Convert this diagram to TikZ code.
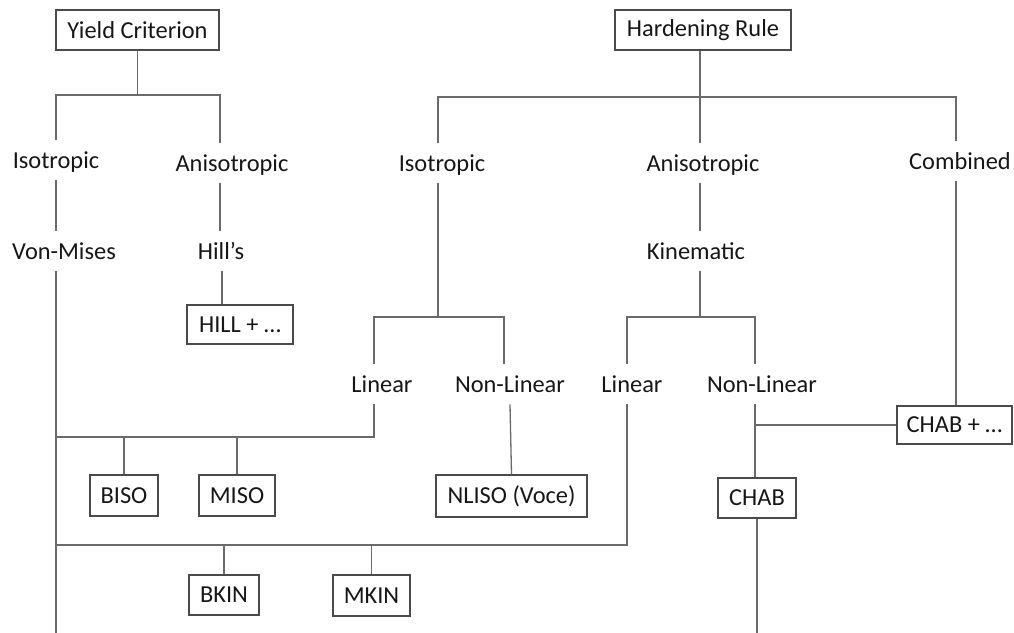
\documentclass[tikz,border=0pt]{standalone}
\usepackage{fontspec}
\setmainfont{Carlito}
\definecolor{linec}{HTML}{6A6A6A}
\definecolor{boxc}{HTML}{4A4A4A}
\definecolor{txtc}{HTML}{161616}
\begin{document}
\begin{tikzpicture}[x=0.5pt,y=-0.5pt,
  every node/.style={font=\fontsize{12.2pt}{14pt}\selectfont, text=txtc},
  lbl/.style={inner sep=0pt, anchor=base, text height=14pt, text depth=6pt},
  lblb/.style={inner sep=0pt, anchor=base, text height=14pt, text depth=6pt},
  boxn/.style={draw=boxc, line width=0.65pt, inner sep=0pt, align=center},
  conn/.style={draw=linec, line width=0.65pt}]
\useasboundingbox (0,0) rectangle (1014,633);

% boxes
\node[boxn, minimum width=81.5pt, minimum height=20pt] (yc) at (137.5,30) {Yield Criterion};
\node[boxn, minimum width=88pt, minimum height=20pt] (hr) at (703,30) {Hardening Rule};
\node[boxn, minimum width=53pt, minimum height=19.5pt] (hill) at (240,324.5) {HILL + …};
\node[boxn, minimum width=34pt, minimum height=20.5pt] (biso) at (124,495.5) {BISO};
\node[boxn, minimum width=38pt, minimum height=20.5pt] (miso) at (237,495.5) {MISO};
\node[boxn, minimum width=75.5pt, minimum height=21pt] (nliso) at (511.5,496) {NLISO (Voce)};
\node[boxn, minimum width=57.5pt, minimum height=19pt] (chabp) at (954.5,425) {CHAB + …};
\node[boxn, minimum width=39pt, minimum height=20pt] (chab) at (757,498) {CHAB};
\node[boxn, minimum width=35pt, minimum height=20pt] (bkin) at (224,595) {BKIN};
\node[boxn, minimum width=38.5pt, minimum height=20.5pt] (mkin) at (371.5,595.5) {MKIN};

% labels
\node[lbl] (yiso) at (56,168) {Isotropic};
\node[lbl] (yani) at (232,171) {Anisotropic};
\node[lbl] (vm) at (64,259) {Von-Mises};
\node[lbl] (hills) at (221,259) {Hill’s};
\node[lbl] (hiso) at (442,171) {Isotropic};
\node[lbl] (hani) at (703,171) {Anisotropic};
\node[lbl] (comb) at (960,169) {Combined};
\node[lbl] (kin) at (696,259) {Kinematic};
\node[lblb] (lin1) at (382,392) {Linear};
\node[lblb] (nlin1) at (510,392) {Non-Linear};
\node[lblb] (lin2) at (632,392) {Linear};
\node[lblb] (nlin2) at (762,392) {Non-Linear};

% junction coordinates
\coordinate (yj) at (137.5,95);
\coordinate (yl) at (56,95);
\coordinate (yr) at (220,95);
\coordinate (vmEnd) at (56,633);
\coordinate (hj) at (700,97);
\coordinate (hl) at (438,97);
\coordinate (hrr) at (956,97);
\coordinate (ij) at (438,317);
\coordinate (il) at (374,317);
\coordinate (ir) at (504,317);
\coordinate (kj) at (700,317);
\coordinate (kl) at (627,317);
\coordinate (kr) at (755,317);
\coordinate (b1) at (374,437);
\coordinate (b2) at (627,545);
\coordinate (hl1) at (222,259);

% yield criterion tree
\draw[conn] (yc.south) -- (yj);
\draw[conn] (yl |- yiso.north) -- (yl) -- (yr) -- (yr |- yani.north);
\draw[conn] (yl |- yiso.south) -- (yl |- vm.north);
\draw[conn] (yl |- vm.south) -- (vmEnd);
\draw[conn] (yr |- yani.south) -- (yr |- hills.north);
\draw[conn] (hl1 |- hills.south) -- (hl1 |- hill.north);

% hardening rule tree
\draw[conn] (hj |- hr.south) -- (hj |- hani.north);
\draw[conn] (hl |- hiso.north) -- (hl) -- (hrr) -- (hrr |- comb.north);
\draw[conn] (hl |- hiso.south) -- (ij);
\draw[conn] (il |- lin1.north) -- (il) -- (ir) -- (ir |- nlin1.north);
\draw[conn] (hj |- hani.south) -- (hj |- kin.north);
\draw[conn] (kj |- kin.south) -- (kj);
\draw[conn] (kl |- lin2.north) -- (kl) -- (kr) -- (kr |- nlin2.north);

% isotropic linear bus
\draw[conn] (il |- lin1.south) -- (b1) -- (b1 -| vmEnd);
\draw[conn] (biso.north |- b1) -- (biso.north);
\draw[conn] (miso.north |- b1) -- (miso.north);
\draw[conn] (nlin1.south) -- (nliso.north);

% kinematic linear bus
\draw[conn] (kl |- lin2.south) -- (b2) -- (b2 -| vmEnd);
\draw[conn] (bkin.north |- b2) -- (bkin.north);
\draw[conn] (mkin.north |- b2) -- (mkin.north);

% kinematic non-linear
\draw[conn] (kr |- nlin2.south) -- (kr |- chab.north);
\draw[conn] (chabp.west) -- (chabp.west -| kr);
\draw[conn] (hrr |- comb.south) -- (hrr |- chabp.north);
\draw[conn] (chab.south) -- (chab.south |- vmEnd);
\end{tikzpicture}
\end{document}
